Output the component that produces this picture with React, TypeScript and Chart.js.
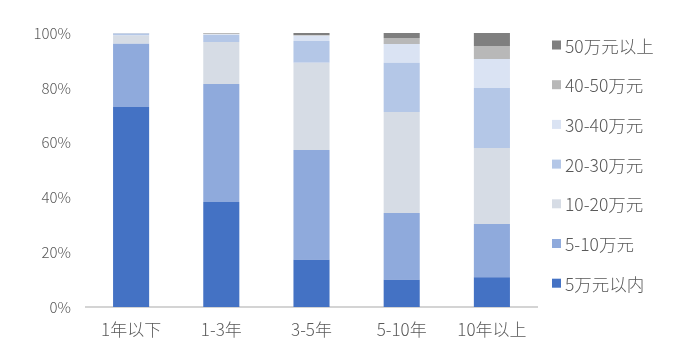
import React, { useEffect, useRef } from "react";
import { Chart, registerables } from "chart.js";

Chart.register(...registerables);

const categories = ["1年以下", "1-3年", "3-5年", "5-10年", "10年以上"];
const seriesNames = ["5万元以内", "5-10万元", "10-20万元", "20-30万元", "30-40万元", "40-50万元", "50万元以上"];
const s5wan = [73.0, 38.3, 17.2, 9.9, 10.9];
const s5to10 = [23.1, 43.1, 40.1, 24.4, 19.4];
const s10to20 = [3.0, 15.3, 31.8, 36.9, 27.7];
const s20to30 = [0.7, 2.6, 8.0, 17.9, 21.9];
const s30to40 = [0.1, 0.2, 1.9, 6.9, 10.6];
const s40to50 = [0.05, 0.3, 0.3, 2.2, 4.8];
const s50plus = [0.05, 0.2, 0.7, 1.8, 4.7];
const yTicks = [0, 20, 40, 60, 80, 100];

const seriesValues = [s5wan, s5to10, s10to20, s20to30, s30to40, s40to50, s50plus];
const colors = ["#4472c4", "#8faadc", "#d6dce5", "#b4c7e7", "#dae3f3", "#b8b8b8", "#7f7f7f"];

const FONT = "'Noto Sans CJK SC', 'Noto Sans', sans-serif";
const TEXT = "#595959";

const legendPlugin = {
  id: "customLegend",
  afterDraw(chart: any) {
    const ctx = chart.ctx;
    const ds = chart.data.datasets;
    ctx.save();
    ctx.font = `300 17.5px ${FONT}`;
    ctx.textBaseline = "middle";
    ctx.textAlign = "left";
    const n = ds.length;
    for (let i = 0; i < n; i++) {
      const d = ds[n - 1 - i];
      const cy = 45 + i * 39.7;
      ctx.fillStyle = d.backgroundColor;
      ctx.fillRect(552, cy - 4.5, 9, 9);
      ctx.fillStyle = TEXT;
      ctx.fillText(d.label, 565, cy + 1);
    }
    ctx.restore();
  },
};

export default function App() {
  const ref = useRef<HTMLCanvasElement>(null);
  useEffect(() => {
    if (!ref.current) return;
    const chart = new Chart(ref.current, {
      type: "bar",
      data: {
        labels: categories,
        datasets: seriesValues.map((vals, i) => ({
          label: seriesNames[i],
          data: vals,
          backgroundColor: colors[i],
          borderWidth: 0,
          barPercentage: 0.4,
          categoryPercentage: 1,
        })),
      },
      options: {
        animation: false,
        responsive: true,
        maintainAspectRatio: false,
        layout: { padding: { top: 33, right: 141, bottom: 0, left: 0 } },
        plugins: {
          legend: { display: false },
          tooltip: { enabled: false },
        },
        scales: {
          x: {
            stacked: true,
            grid: { display: false, drawTicks: false },
            border: { display: true, color: "#d4d4d4", width: 2 },
            ticks: { color: TEXT, font: { family: FONT, size: 17, weight: "300" }, padding: 12 },
            afterFit: (s: any) => { s.height = 39; },
          },
          y: {
            stacked: true,
            min: 0,
            max: 100,
            grid: { display: false, drawTicks: false },
            border: { display: false },
            afterBuildTicks: (s: any) => { s.ticks = yTicks.map((v) => ({ value: v })); },
            ticks: {
              color: TEXT,
              font: { family: FONT, size: 15, weight: "300" },
              padding: 15,
              callback: (v: any) => `${v}%`,
            },
            afterFit: (s: any) => { s.width = 86; },
          },
        },
      },
      plugins: [legendPlugin],
    });
    return () => chart.destroy();
  }, []);
  return (
    <div style={{ position: "fixed", left: 0, top: 0, width: 678, height: 346, background: "#fff" }}>
      <canvas ref={ref} />
    </div>
  );
}
